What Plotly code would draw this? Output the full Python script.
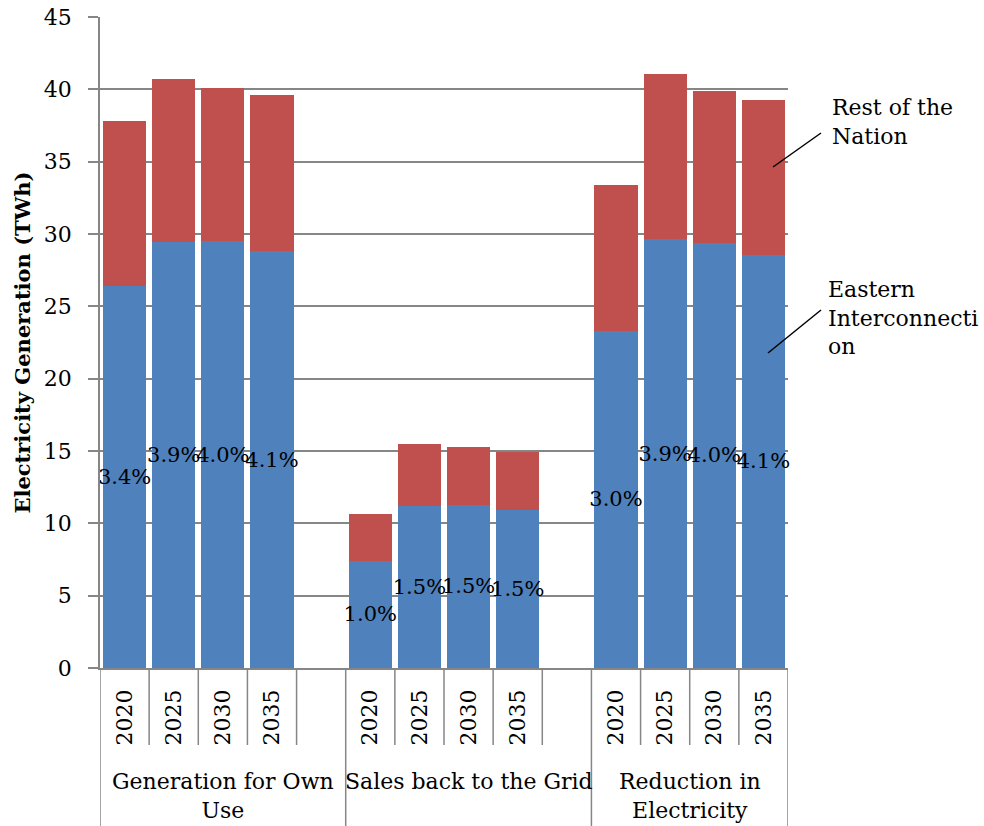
import plotly.graph_objects as go

# ---- data ----
groups = ["Generation for Own<br>Use", "Sales back to the Grid", "Reduction in<br>Electricity"]
years = ["2020", "2025", "2030", "2035"]
eastern = [26.4, 29.45, 29.5, 28.8,
           7.4, 11.2, 11.27, 10.9,
           23.3, 29.65, 29.4, 28.55]
rest = [11.4, 11.25, 10.6, 10.8,
        3.25, 4.3, 4.03, 4.05,
        10.1, 11.4, 10.5, 10.7]
pct_labels = ["3.4%", "3.9%", "4.0%", "4.1%",
              "1.0%", "1.5%", "1.5%", "1.5%",
              "3.0%", "3.9%", "4.0%", "4.1%"]
series_names = ["Eastern<br>Interconnecti<br>on", "Rest of the<br>Nation"]

BLUE = "#4F81BD"
RED = "#C0504D"
GRID = "#868686"
FONT = "DejaVu Serif"

# slot layout: 4 bars per group + one empty slot between groups
slot_per_group = len(years) + 1
xpos = []
year_text = []
for g in range(len(groups)):
    for j, yv in enumerate(years):
        xpos.append(g * slot_per_group + j)
        year_text.append(yv)
n_slots = (len(groups) - 1) * slot_per_group + len(years)

fig = go.Figure()
fig.add_trace(go.Bar(
    x=xpos, y=eastern, width=0.88, marker=dict(color=BLUE, line=dict(width=0)),
    text=pct_labels, textposition="inside", insidetextanchor="middle",
    constraintext="none", textangle=0, cliponaxis=False,
    textfont=dict(family=FONT, size=21, color="black"),
    name="Eastern Interconnection"))
fig.add_trace(go.Bar(
    x=xpos, y=rest, width=0.88, marker=dict(color=RED, line=dict(width=0)),
    name="Rest of the Nation"))

L, R, T, B = 100, 196, 17, 158
W, H = 984, 826
pw, ph = W - L - R, H - T - B

shapes = []
# separators under the axis
group_bounds = set()
for g in range(len(groups)):
    group_bounds.add(g * slot_per_group - 0.5)
group_bounds.add(n_slots - 0.5)
for k in range(n_slots + 1):
    xb = k - 0.5
    if xb in group_bounds:
        y1 = -B / ph
    else:
        y1 = -(745 - 668) / ph
    shapes.append(dict(type="line", xref="x", yref="paper", x0=xb, x1=xb,
                       y0=0, y1=y1, line=dict(color=GRID, width=1.5)))

# leader lines for series labels
def px(xp):
    return (xp - L) / pw
def py(yp):
    return (H - B - yp) / ph

shapes.append(dict(type="line", xref="paper", yref="paper",
                   x0=px(773), y0=py(167), x1=px(821), y1=py(133),
                   line=dict(color="black", width=1.5)))
shapes.append(dict(type="line", xref="paper", yref="paper",
                   x0=px(768), y0=py(353), x1=px(821), y1=py(310),
                   line=dict(color="black", width=1.5)))

annotations = []
for g, name in enumerate(groups):
    start = g * slot_per_group
    end = start + (slot_per_group - 1 if g < len(groups) - 1 else len(years) - 1)
    annotations.append(dict(x=(start + end) / 2, y=py(767), xref="x", yref="paper",
                            text=name, showarrow=False, xanchor="center", yanchor="top",
                            font=dict(family=FONT, size=22, color="black")))

annotations.append(dict(x=px(830), y=py(122), xref="paper", yref="paper",
                        text=series_names[1], showarrow=False, xanchor="left",
                        yanchor="middle", align="left",
                        font=dict(family=FONT, size=22, color="black")))
annotations.append(dict(x=px(826), y=py(318), xref="paper", yref="paper",
                        text=series_names[0], showarrow=False, xanchor="left",
                        yanchor="middle", align="left",
                        font=dict(family=FONT, size=22, color="black")))

fig.update_layout(
    width=W, height=H,
    margin=dict(l=L, r=R, t=T, b=B, autoexpand=False),
    barmode="stack",
    showlegend=False,
    plot_bgcolor="white", paper_bgcolor="white",
    font=dict(family=FONT, size=22, color="black"),
    shapes=shapes, annotations=annotations,
    xaxis=dict(range=[-0.5, n_slots - 0.5], tickmode="array", tickvals=xpos,
               ticktext=year_text, tickangle=-90, ticks="outside", ticklen=11,
               tickcolor="rgba(0,0,0,0)", showgrid=False,
               zeroline=False, showline=True, linecolor=GRID, linewidth=1.5,
               automargin=False,
               tickfont=dict(family=FONT, size=22, color="black")),
    yaxis=dict(range=[0, 45], dtick=5, tick0=0, showgrid=True, gridcolor=GRID,
               gridwidth=1.5, zeroline=False, showline=True, linecolor=GRID,
               linewidth=1.5, ticks="outside", ticklen=10, tickcolor=GRID,
               tickwidth=1.5, ticklabelstandoff=12, automargin=False,
               tickfont=dict(family=FONT, size=22, color="black"),
               title=dict(text="<b>Electricity Generation (TWh)</b>", standoff=7,
                          font=dict(family=FONT, size=21, color="black"))),
)

fig.write_html("out.html", config={"displayModeBar": False},
               post_script="document.body.style.margin='0';document.body.style.overflow='hidden';")
